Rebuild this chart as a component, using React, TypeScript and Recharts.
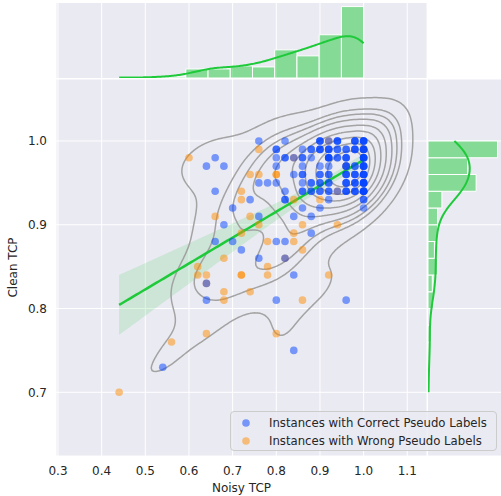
import React from "react";
import {
  ComposedChart,
  Scatter,
  Line,
  Area,
  XAxis,
  YAxis,
  CartesianGrid,
  ReferenceArea,
  Legend,
} from "recharts";

type P = [number, number, number]; // [noisy TCP, clean TCP, multiplicity]

// Instances with wrong pseudo labels (orange)
const wrongPoints: P[] = [
  [0.44, 0.7, 1], [0.56, 0.76, 1], [0.6, 0.98, 1], [0.62, 0.85, 1], [0.62, 0.84, 1],
  [0.64, 0.84, 1], [0.64, 0.83, 1], [0.64, 0.77, 1], [0.66, 0.91, 1], [0.68, 0.86, 1],
  [0.68, 0.82, 1], [0.68, 0.81, 1], [0.72, 0.94, 1], [0.72, 0.93, 1], [0.72, 0.89, 1],
  [0.72, 0.84, 2], [0.74, 0.96, 1], [0.74, 0.91, 1], [0.74, 0.82, 1], [0.76, 0.99, 1],
  [0.76, 0.96, 1], [0.76, 0.9, 1], [0.78, 0.88, 1], [0.78, 0.85, 1], [0.78, 0.84, 1],
  [0.8, 0.77, 1], [0.82, 0.86, 1], [0.84, 0.89, 1], [0.84, 0.88, 1], [0.84, 0.93, 1],
  [0.86, 0.87, 1], [0.86, 0.9, 1], [0.86, 0.81, 1], [0.92, 0.84, 1], [0.94, 0.9, 1],
  [0.9, 0.93, 1], [0.8, 0.96, 2], [0.84, 0.98, 1], [0.92, 1.0, 1], [1.0, 0.99, 1],
  [0.96, 0.97, 1], [0.94, 0.94, 1],
];

// Instances with correct pseudo labels (blue)
const correctPoints: P[] = [
  [0.54, 0.73, 1], [0.64, 0.97, 1], [0.64, 0.83, 1], [0.64, 0.81, 1], [0.66, 0.98, 1],
  [0.66, 0.94, 1], [0.66, 0.88, 1], [0.68, 0.97, 1], [0.68, 0.9, 1], [0.7, 0.92, 1],
  [0.7, 0.88, 1], [0.72, 0.87, 1], [0.74, 0.93, 1], [0.76, 1.0, 1], [0.76, 0.95, 1],
  [0.76, 0.91, 1], [0.76, 0.86, 1], [0.78, 0.95, 1],
  [0.8, 0.88, 1], [0.8, 0.81, 1], [0.82, 0.88, 1], [0.82, 0.86, 1], [0.84, 0.84, 1],
  [0.84, 0.75, 1], [0.84, 0.91, 1], [0.88, 0.89, 1], [0.88, 0.91, 1], [0.96, 0.81, 1],
  [0.86, 0.92, 1], [0.9, 0.92, 1], [1.0, 0.92, 1], [0.92, 0.93, 1], [1.0, 0.93, 2],
  [0.82, 0.93, 2],
  [0.8, 0.99, 2], [0.8, 0.98, 1], [0.8, 0.97, 1], [0.8, 0.95, 1], [0.82, 1.0, 1],
  [0.82, 0.98, 2], [0.82, 0.94, 1], [0.84, 0.98, 1], [0.84, 0.96, 1],
  [0.86, 0.99, 1], [0.86, 0.98, 2], [0.86, 0.97, 1], [0.86, 0.96, 2], [0.86, 0.95, 1],
  [0.86, 0.94, 2], [0.88, 0.99, 2], [0.88, 0.98, 1], [0.88, 0.95, 2], [0.88, 0.94, 2],
  [0.9, 1.0, 3], [0.9, 0.99, 3], [0.9, 0.97, 1], [0.9, 0.96, 2], [0.9, 0.95, 2], [0.9, 0.94, 2],
  [0.92, 1.0, 1], [0.92, 0.99, 3], [0.92, 0.98, 4], [0.92, 0.97, 1], [0.92, 0.96, 2],
  [0.92, 0.95, 2], [0.92, 0.94, 2],
  [0.94, 1.0, 3], [0.94, 0.99, 2], [0.94, 0.98, 2], [0.94, 0.94, 1],
  [0.96, 0.99, 2], [0.96, 0.98, 3], [0.96, 0.97, 3], [0.96, 0.96, 3], [0.96, 0.95, 3], [0.96, 0.94, 3],
  [0.98, 1.0, 3], [0.98, 0.99, 3], [0.98, 0.97, 2], [0.98, 0.96, 3], [0.98, 0.95, 3], [0.98, 0.94, 3],
  [1.0, 1.0, 4], [1.0, 0.99, 4], [1.0, 0.98, 5], [1.0, 0.97, 4], [1.0, 0.96, 4], [1.0, 0.95, 5],
  [1.0, 0.94, 5],
];

const xTicks = [0.3, 0.4, 0.5, 0.6, 0.7, 0.8, 0.9, 1.0, 1.1];
const yTicks = [0.7, 0.8, 0.9, 1.0];
const seriesNames = ["Instances with Correct Pseudo Labels", "Instances with Wrong Pseudo Labels"];
const X_DOMAIN: [number, number] = [0.29542, 1.14517];
const Y_DOMAIN: [number, number] = [0.62397, 1.07401];
const X_BINS = 11;
const Y_BINS = 15;
const KDE_LEVELS = 10;
const KDE_THRESH = 0.05;

const BLUE = "#0040ff";
const ORANGE = "#ff8c00";
const GREEN = "#1fca3a";
const GRID_BG = "#eaeaf2";
const TEXT = "#262626";
const FONT = "DejaVu Sans";

// ---------- derived data ----------
type Pt = { x: number; y: number | null };
const expand = (pts: P[]) =>
  pts.flatMap(([x, y, n]) => Array.from({ length: n }, () => ({ x, y })));
const correct = expand(correctPoints);
const wrong = expand(wrongPoints);
const all = [...correct, ...wrong];
const N = all.length;
const xs = all.map((p) => p.x);
const ys = all.map((p) => p.y);

const linspace = (a: number, b: number, n: number) =>
  Array.from({ length: n }, (_, i) => a + ((b - a) * i) / (n - 1));
const mean = (a: number[]) => a.reduce((s, v) => s + v, 0) / a.length;
const variance = (a: number[]) => {
  const m = mean(a);
  return a.reduce((s, v) => s + (v - m) ** 2, 0) / (a.length - 1);
};

// Linear regression with a robust (HC3) 95% confidence band
const mx = mean(xs);
const my = mean(ys);
let sxx = 0, sxy = 0;
for (let i = 0; i < N; i++) {
  sxx += (xs[i] - mx) ** 2;
  sxy += (xs[i] - mx) * (ys[i] - my);
}
const slope = sxy / sxx;
const intercept = my - slope * mx;
const sumX = xs.reduce((s, v) => s + v, 0);
const sumX2 = xs.reduce((s, v) => s + v * v, 0);
const detXX = N * sumX2 - sumX * sumX;
const A00 = sumX2 / detXX, A01 = -sumX / detXX, A11 = N / detXX;
let M00 = 0, M01 = 0, M11 = 0;
for (let i = 0; i < N; i++) {
  const x = xs[i];
  const e = ys[i] - intercept - slope * x;
  const h = A00 + 2 * A01 * x + A11 * x * x;
  const w = (e * e) / ((1 - h) * (1 - h));
  M00 += w;
  M01 += w * x;
  M11 += w * x * x;
}
const AM00 = A00 * M00 + A01 * M01, AM01 = A00 * M01 + A01 * M11;
const AM10 = A01 * M00 + A11 * M01, AM11 = A01 * M01 + A11 * M11;
const V00 = AM00 * A00 + AM01 * A01;
const V01 = AM00 * A01 + AM01 * A11;
const V11 = AM10 * A01 + AM11 * A11;
const Z95 = 1.96;
const regData = linspace(Math.min(...xs), Math.max(...xs), 100).map((x) => {
  const yhat = intercept + slope * x;
  const se = Math.sqrt(Math.max(0, V00 + 2 * x * V01 + x * x * V11));
  return { x, yhat, band: [yhat - Z95 * se, yhat + Z95 * se] };
});

// Histograms
function histogram(vals: number[], bins: number) {
  const lo = Math.min(...vals);
  const hi = Math.max(...vals);
  const w = (hi - lo) / bins;
  const counts = new Array(bins).fill(0);
  vals.forEach((v) => {
    let k = Math.floor((v - lo) / w + 1e-9);
    if (k >= bins) k = bins - 1;
    counts[k]++;
  });
  return { w, bars: counts.map((c, k) => ({ lo: lo + k * w, hi: lo + (k + 1) * w, count: c })) };
}
const xHist = histogram(xs, X_BINS);
const yHist = histogram(ys, Y_BINS);
const xHistMax = Math.max(...xHist.bars.map((b) => b.count)) * 1.05;
const yHistMax = Math.max(...yHist.bars.map((b) => b.count)) * 1.05;

// 1D KDE (Scott), cut=0, scaled to counts
function kde1d(vals: number[], binW: number) {
  const n = vals.length;
  const h = Math.sqrt(variance(vals)) * Math.pow(n, -1 / 5);
  const lo = Math.min(...vals);
  const hi = Math.max(...vals);
  return linspace(lo, hi, 200).map((t) => {
    let s = 0;
    for (const v of vals) s += Math.exp(-0.5 * ((t - v) / h) ** 2);
    const d = s / (n * h * Math.sqrt(2 * Math.PI));
    return { t, c: d * n * binW };
  });
}
const xKde = kde1d(xs, xHist.w).map((d) => ({ x: d.t, y: d.c }));
const yKde = kde1d(ys, yHist.w).map((d) => ({ x: d.c, y: d.t }));

// 2D KDE contours (Scott bandwidth, iso-proportion levels)
function kde2dContours() {
  const f2 = Math.pow(N, -1 / 3);
  const vx = variance(xs);
  const vy = variance(ys);
  let cxy = 0;
  for (let i = 0; i < N; i++) cxy += (xs[i] - mx) * (ys[i] - my);
  cxy /= N - 1;
  const a = vx * f2, b = cxy * f2, d = vy * f2;
  const det = a * d - b * b;
  const ia = d / det, ib = -b / det, id = a / det;
  const bwx = Math.sqrt(a), bwy = Math.sqrt(d);
  const G = 150;
  const gx = linspace(Math.min(...xs) - 3 * bwx, Math.max(...xs) + 3 * bwx, G);
  const gy = linspace(Math.min(...ys) - 3 * bwy, Math.max(...ys) + 3 * bwy, G);
  const grid: number[][] = [];
  for (let j = 0; j < G; j++) {
    const row: number[] = [];
    for (let i = 0; i < G; i++) {
      let s = 0;
      for (let k = 0; k < N; k++) {
        const dx = gx[i] - xs[k];
        const dy = gy[j] - ys[k];
        s += Math.exp(-0.5 * (ia * dx * dx + 2 * ib * dx * dy + id * dy * dy));
      }
      row.push(s);
    }
    grid.push(row);
  }
  const flat = grid.flat().sort((p, q) => q - p);
  const total = flat.reduce((s, v) => s + v, 0);
  const cum: number[] = [];
  let acc = 0;
  for (const v of flat) {
    acc += v;
    cum.push(acc / total);
  }
  const props = linspace(KDE_THRESH, 1, KDE_LEVELS);
  const levels = props
    .map((p) => {
      const target = 1 - p;
      let idx = cum.findIndex((c) => c >= target);
      if (idx < 0) idx = flat.length - 1;
      return flat[idx];
    })
    .slice(0, KDE_LEVELS - 1);

  return levels.map((level) => {
    const out: Pt[] = [];
    const interp = (p: number, q: number, vp: number, vq: number) =>
      p + ((q - p) * (level - vp)) / (vq - vp);
    for (let j = 0; j < G - 1; j++) {
      for (let i = 0; i < G - 1; i++) {
        const v00 = grid[j][i], v10 = grid[j][i + 1], v01 = grid[j + 1][i], v11 = grid[j + 1][i + 1];
        const s00 = v00 > level, s10 = v10 > level, s01 = v01 > level, s11 = v11 > level;
        if (s00 === s10 && s00 === s01 && s00 === s11) continue;
        const x0 = gx[i], x1 = gx[i + 1], y0 = gy[j], y1 = gy[j + 1];
        const B = s00 !== s10 ? [interp(x0, x1, v00, v10), y0] : null;
        const R = s10 !== s11 ? [x1, interp(y0, y1, v10, v11)] : null;
        const T = s01 !== s11 ? [interp(x0, x1, v01, v11), y1] : null;
        const L = s00 !== s01 ? [x0, interp(y0, y1, v00, v01)] : null;
        const segs: number[][][] = [];
        if (B && R && T && L) {
          const c = (v00 + v10 + v01 + v11) / 4 > level;
          if (s00 !== c) segs.push([B, L], [R, T]);
          else segs.push([B, R], [L, T]);
        } else {
          const pts = [B, R, T, L].filter(Boolean) as number[][];
          if (pts.length === 2) segs.push([pts[0], pts[1]]);
        }
        for (const [p, q] of segs) {
          out.push({ x: p[0], y: p[1] }, { x: q[0], y: q[1] }, { x: q[0], y: null });
        }
      }
    }
    return out;
  });
}
const contours = kde2dContours();

// ---------- components ----------
const dotShape = (color: string) => (props: any) => (
  <circle cx={props.cx} cy={props.cy} r={3.8} fill={color} fillOpacity={0.5} />
);
const noShape = () => <g />;

const LegendBox = () => (
  <div
    style={{
      width: 265,
      height: 38,
      border: "1px solid #cccccc",
      borderRadius: 4,
      background: "rgba(234,234,242,0.8)",
      fontFamily: FONT,
      fontSize: 11.7,
      color: TEXT,
      position: "relative",
    }}
  >
    {seriesNames.map((name, i) => (
      <div
        key={name}
        style={{ position: "absolute", left: 0, top: 2 + i * 18, height: 18, display: "flex", alignItems: "center" }}
      >
        <svg width={38} height={18}>
          <circle cx={15} cy={9} r={3.8} fill={i === 0 ? BLUE : ORANGE} fillOpacity={0.5} />
        </svg>
        <span style={{ whiteSpace: "nowrap" }}>{name}</span>
      </div>
    ))}
  </div>
);

const YLabel = (props: any) => {
  const vb = props.viewBox || { x: 0, y: 79, width: 56, height: 377 };
  const cy = vb.y + vb.height / 2;
  const cx = 16.5;
  return (
    <text
      x={cx}
      y={cy}
      transform={`rotate(-90, ${cx}, ${cy})`}
      textAnchor="middle"
      fill={TEXT}
      fontSize={12}
      fontFamily={FONT}
    >
      Clean TCP
    </text>
  );
};

export default function App() {
  const tickStyle = { fill: TEXT, fontSize: 12, fontFamily: FONT };
  return (
    <div style={{ position: "absolute", left: 0, top: 0, width: 501, height: 496, background: "#fff" }}>
      {/* top marginal */}
      <div style={{ position: "absolute", left: 0, top: 0 }}>
        <ComposedChart width={427} height={78} margin={{ top: 3, right: 0, bottom: 0, left: 56 }} data={xKde}>
          <CartesianGrid fill={GRID_BG} stroke="#ffffff" strokeWidth={1} horizontal={false} />
          <XAxis type="number" dataKey="x" domain={X_DOMAIN} ticks={xTicks} hide allowDataOverflow />
          <YAxis type="number" domain={[0, xHistMax]} hide allowDataOverflow />
          {xHist.bars
            .filter((b) => b.count > 0)
            .map((b, i) => (
              <ReferenceArea
                key={i}
                x1={b.lo}
                x2={b.hi}
                y1={0}
                y2={b.count}
                fill={GREEN}
                fillOpacity={0.5}
                stroke="#ffffff"
                strokeOpacity={1}
                strokeWidth={1}
              />
            ))}
          <Line dataKey="y" stroke={GREEN} strokeWidth={2} dot={false} isAnimationActive={false} type="linear" />
        </ComposedChart>
      </div>

      {/* right marginal */}
      <div style={{ position: "absolute", left: 428, top: 0 }}>
        <ComposedChart width={73} height={496} margin={{ top: 79, right: 0, bottom: 40, left: 0 }}>
          <CartesianGrid fill={GRID_BG} stroke="#ffffff" strokeWidth={1} vertical={false} />
          <XAxis type="number" dataKey="x" domain={[0, yHistMax]} hide allowDataOverflow />
          <YAxis type="number" dataKey="y" domain={Y_DOMAIN} ticks={yTicks} hide allowDataOverflow />
          {yHist.bars
            .filter((b) => b.count > 0)
            .map((b, i) => (
              <ReferenceArea
                key={i}
                x1={0}
                x2={b.count}
                y1={b.lo}
                y2={b.hi}
                fill={GREEN}
                fillOpacity={0.5}
                stroke="#ffffff"
                strokeOpacity={1}
                strokeWidth={1}
              />
            ))}
          <Scatter
            data={yKde}
            line={{ stroke: GREEN, strokeWidth: 2 }}
            lineJointType="linear"
            shape={noShape}
            isAnimationActive={false}
          />
        </ComposedChart>
      </div>

      {/* joint plot */}
      <div style={{ position: "absolute", left: 0, top: 0, zIndex: 2 }}>
        <ComposedChart width={427} height={496} margin={{ top: 79, right: 0, bottom: 0, left: 0 }} data={regData}>
          <CartesianGrid fill={GRID_BG} stroke="#ffffff" strokeWidth={1} />
          <XAxis
            type="number"
            dataKey="x"
            domain={X_DOMAIN}
            ticks={xTicks}
            interval={0}
            allowDataOverflow
            height={40}
            tickLine={false}
            axisLine={false}
            tickSize={0}
            tickMargin={10}
            tick={tickStyle}
            tickFormatter={(v: number) => v.toFixed(1)}
            label={{ value: "Noisy TCP", position: "insideBottom", offset: 4, fill: TEXT, fontSize: 12, fontFamily: FONT }}
          />
          <YAxis
            type="number"
            dataKey="y"
            domain={Y_DOMAIN}
            ticks={yTicks}
            interval={0}
            allowDataOverflow
            width={56}
            tickLine={false}
            axisLine={false}
            tickSize={0}
            tickMargin={9}
            tick={tickStyle}
            tickFormatter={(v: number) => v.toFixed(1)}
            label={{ content: YLabel }}
          />
          {contours.map((c, i) => (
            <Line
              key={"c" + i}
              data={c}
              dataKey="y"
              stroke="#a3a3a3"
              strokeWidth={1.5}
              strokeLinecap="round"
              dot={false}
              activeDot={false}
              connectNulls={false}
              isAnimationActive={false}
              type="linear"
            />
          ))}
          <Scatter data={wrong} shape={dotShape(ORANGE)} isAnimationActive={false} />
          <Scatter data={correct} shape={dotShape(BLUE)} isAnimationActive={false} />
          <Area
            dataKey="band"
            stroke="none"
            fill={GREEN}
            fillOpacity={0.15}
            isAnimationActive={false}
            type="linear"
            activeDot={false}
          />
          <Line dataKey="yhat" stroke={GREEN} strokeWidth={2.5} dot={false} activeDot={false} isAnimationActive={false} type="linear" />
          <Legend
            layout="vertical"
            align="center"
            verticalAlign="middle"
            content={() => <LegendBox />}
            wrapperStyle={{ position: "absolute", left: 230, top: 411, width: 267, height: 40, margin: 0 }}
          />
        </ComposedChart>
      </div>
    </div>
  );
}
